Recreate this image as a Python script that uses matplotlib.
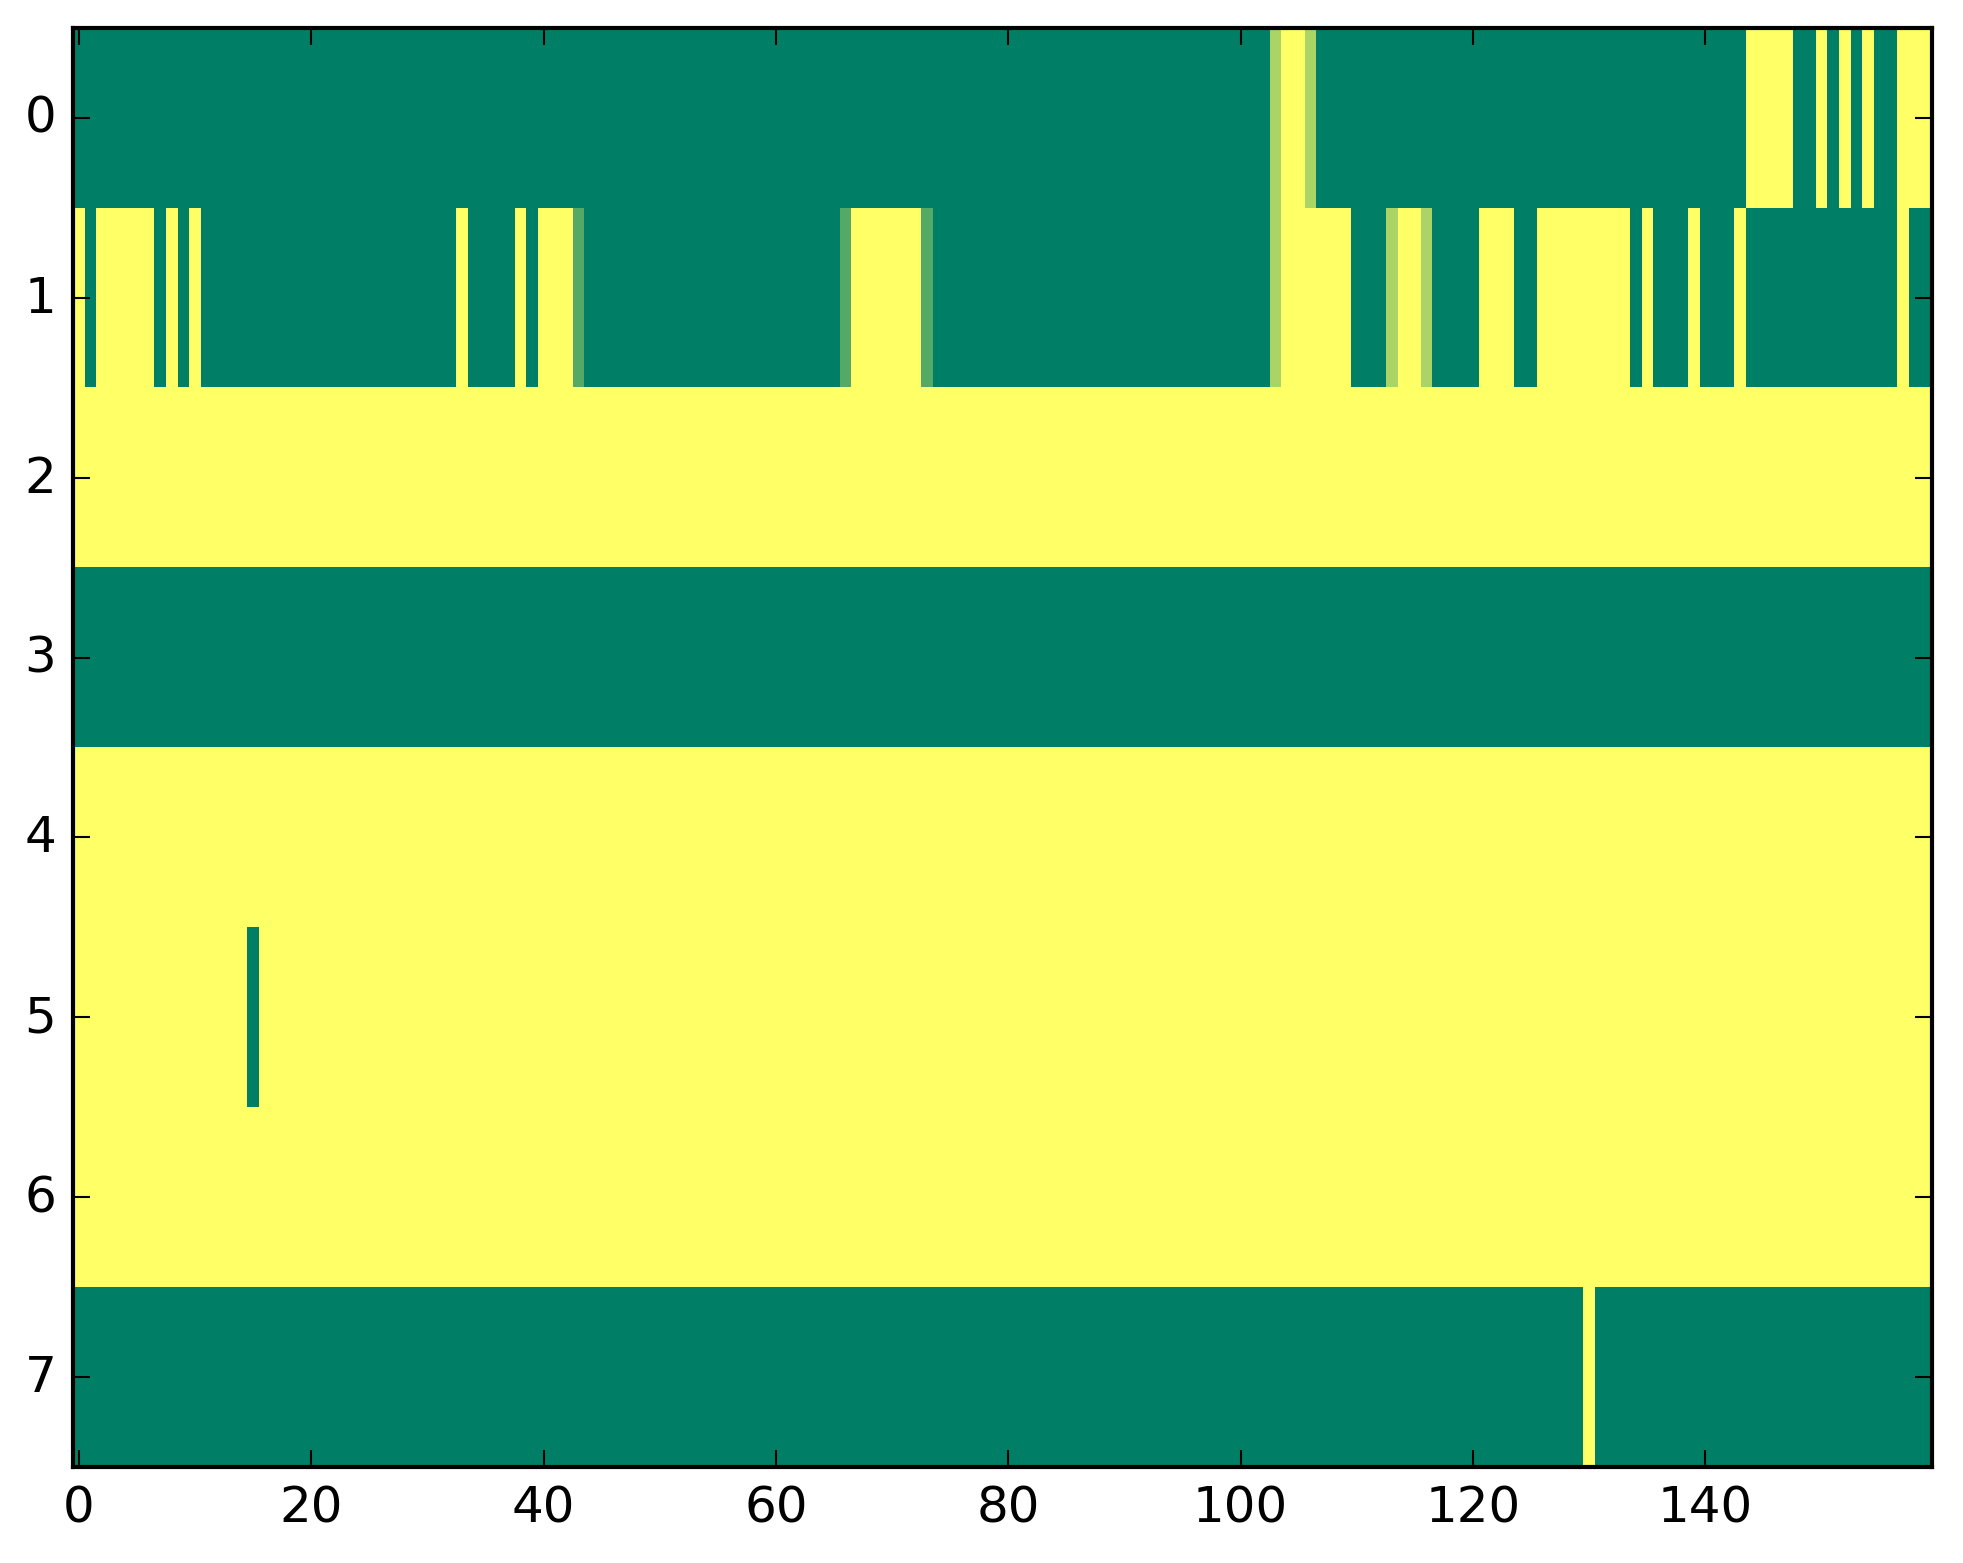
import numpy as np
import matplotlib
matplotlib.use('Agg')
import matplotlib.pyplot as plt

plt.style.use('classic')

n_cols = 160

# background value of each row (0 = green, 1 = yellow)
row_base = [0, 0, 1, 0, 1, 1, 1, 0]

# columns that take the opposite value of the row background
row0_flip = [104, 105, 144, 145, 146, 147, 150, 152, 154, 157, 158, 159]
row1_flip = [0, 2, 3, 4, 5, 6, 8, 10, 33, 38, 40, 41, 42,
             67, 68, 69, 70, 71, 72, 104, 105, 106, 107, 108, 109,
             114, 115, 121, 122, 123, 126, 127, 128, 129, 130, 131, 132, 133,
             135, 139, 143, 157]
row5_flip = [15]
row7_flip = [130]
row_flips = {0: row0_flip, 1: row1_flip, 5: row5_flip, 7: row7_flip}

# cells with in-between values
row0_partial = {103: 0.67, 106: 0.67}
row1_partial = {43: 0.33, 66: 0.33, 73: 0.33, 103: 0.67, 113: 0.67, 116: 0.67}
row_partials = {0: row0_partial, 1: row1_partial}

grid = np.zeros((len(row_base), n_cols))
for r, base in enumerate(row_base):
    grid[r, :] = base
    for c in row_flips.get(r, []):
        grid[r, c] = 1 - base
    for c, v in row_partials.get(r, {}).items():
        grid[r, c] = v

W, H, DPI = 1963, 1564, 300
fig = plt.figure(figsize=(W / DPI, H / DPI), dpi=DPI, facecolor='white')
ax = fig.add_axes([73 / W, 96 / H, 1859 / W, 1439 / H])
ax.imshow(grid, cmap='summer', interpolation='nearest', aspect='auto')
ax.set_xticks(np.arange(0, 160, 20))
ax.set_yticks(np.arange(0, 8))

fig.savefig('out.png', dpi=DPI, facecolor='white')
